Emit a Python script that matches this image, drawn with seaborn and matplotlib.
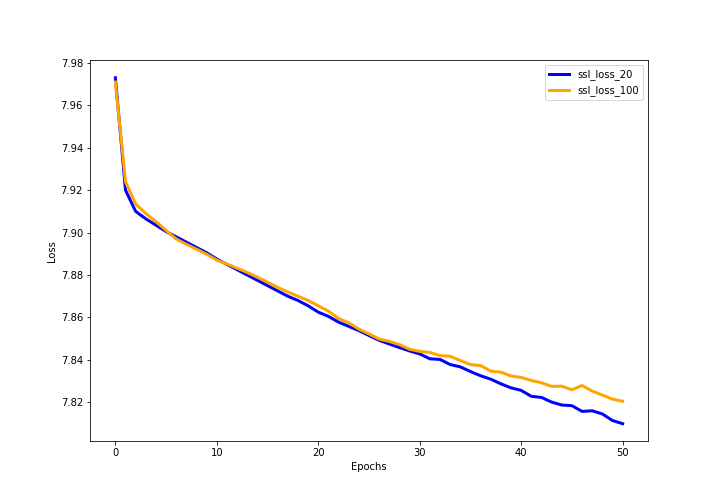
import numpy as np
import matplotlib
matplotlib.use("Agg")
import matplotlib.pyplot as plt
import seaborn as sns

# ===============================
# DATA
# ===============================
epochs = list(range(51))

ssl_loss_20 = [
    7.9730, 7.9200, 7.9100, 7.9065, 7.9035, 7.9005, 7.8980, 7.8955, 7.8930, 7.8905,
    7.8875, 7.8850, 7.8825, 7.8800, 7.8775, 7.8750, 7.8725, 7.8700, 7.8680, 7.8655,
    7.8625, 7.8605, 7.8578, 7.8558, 7.8538, 7.8515, 7.8492, 7.8475, 7.8458, 7.8442,
    7.8428, 7.8405, 7.8402, 7.8378, 7.8367, 7.8345, 7.8325, 7.8309, 7.8287, 7.8268,
    7.8256, 7.8228, 7.8223, 7.8201, 7.8187, 7.8184, 7.8157, 7.8160, 7.8145, 7.8114,
    7.8099,
]

ssl_loss_100 = [
    7.9710, 7.9240, 7.9135, 7.9090, 7.9052, 7.9010, 7.8970, 7.8945, 7.8922, 7.8898,
    7.8870, 7.8852, 7.8832, 7.8812, 7.8790, 7.8766, 7.8742, 7.8720, 7.8700, 7.8680,
    7.8655, 7.8630, 7.8595, 7.8575, 7.8545, 7.8522, 7.8498, 7.8487, 7.8472, 7.8450,
    7.8440, 7.8435, 7.8420, 7.8417, 7.8397, 7.8378, 7.8373, 7.8347, 7.8342, 7.8324,
    7.8317, 7.8303, 7.8292, 7.8275, 7.8276, 7.8259, 7.8279, 7.8253, 7.8234, 7.8215,
    7.8205,
]

# ===============================
# PLOT
# ===============================
fig, ax = plt.subplots(figsize=(10, 7), dpi=72)
fig.subplots_adjust(left=0.125, right=0.9, bottom=0.125, top=0.88)

sns.lineplot(x=epochs, y=ssl_loss_20, color="blue", linewidth=3,
             label="ssl_loss_20", ax=ax)
sns.lineplot(x=epochs, y=ssl_loss_100, color="orange", linewidth=3,
             label="ssl_loss_100", ax=ax)

ax.set_xlabel("Epochs")
ax.set_ylabel("Loss")
ax.legend(loc="upper right")

fig.savefig("out.png", dpi=72)
plt.close(fig)
